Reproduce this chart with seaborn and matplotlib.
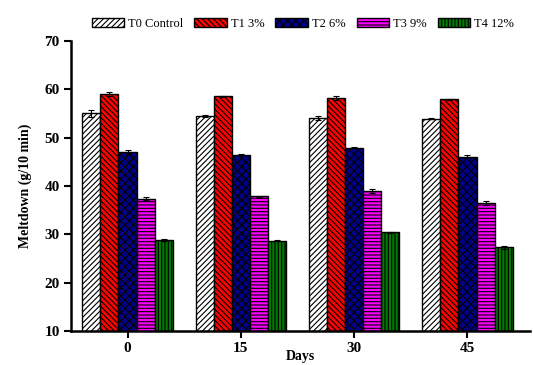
import matplotlib
matplotlib.use("Agg")
import matplotlib.pyplot as plt
import seaborn as sns
import numpy as np
import pandas as pd

days = ["0", "15", "30", "45"]
treatments = ["T0 Control", "T1 3%", "T2 6%", "T3 9%", "T4 12%"]
t0 = [55.0, 54.5, 54.0, 53.9]
t1 = [59.0, 58.5, 58.1, 57.9]
t2 = [47.1, 46.5, 47.9, 46.0]
t3 = [37.4, 37.9, 39.0, 36.4]
t4 = [28.9, 28.7, 30.4, 27.3]
e0 = [0.8, 0.2, 0.4, 0.1]
e1 = [0.4, 0.1, 0.4, 0.1]
e2 = [0.4, 0.1, 0.1, 0.3]
e3 = [0.4, 0.1, 0.4, 0.4]
e4 = [0.2, 0.1, 0.1, 0.3]

colors = ["white", "#ff0000", "#00008b", "#ff00ff", "#007a00"]
hatches = ["//////", "\\\\\\\\\\\\", "xxxx", "-----", "|||||"]

values = [t0, t1, t2, t3, t4]
errors = [e0, e1, e2, e3, e4]
rows = []
for tr, vals in zip(treatments, values):
    for d, v in zip(days, vals):
        rows.append({"Days": d, "Treatment": tr, "Meltdown": v})
df = pd.DataFrame(rows)

sns.set_style("ticks", {"axes.edgecolor": "black", "text.color": "black",
                        "xtick.color": "black", "ytick.color": "black",
                        "axes.labelcolor": "black"})
plt.rcParams["font.family"] = ["Liberation Serif", "DejaVu Serif"]
plt.rcParams["hatch.linewidth"] = 0.8

fig = plt.figure(figsize=(5.33, 3.65), dpi=100)
ax = fig.add_axes([0.133, 0.093, 0.861, 0.795])

sns.barplot(data=df, x="Days", y="Meltdown", hue="Treatment", order=days,
            hue_order=treatments, palette=colors, errorbar=None, width=0.8,
            edgecolor="black", linewidth=1.0, saturation=1, legend=False, ax=ax)

bar_conts = list(ax.containers)
for cont, h, errs in zip(bar_conts, hatches, errors):
    xs, ys = [], []
    for p in cont.patches:
        p.set_hatch(h)
        p.set_edgecolor("black")
        xs.append(p.get_x() + p.get_width() / 2)
        ys.append(p.get_height())
    ax.errorbar(xs, ys, yerr=errs, fmt="none", ecolor="black", elinewidth=0.8,
                capsize=2.5, capthick=0.8)

ax.set_ylim(10, 70)
ax.set_xlim(-0.5, 3.55)
ax.set_yticks([10, 20, 30, 40, 50, 60, 70])
ax.set_xlabel("Days", fontsize=10, fontweight="bold", labelpad=-4)
ax.set_ylabel("Meltdown (g/10 min)", fontsize=10, fontweight="bold", labelpad=9)
for lab in ax.get_xticklabels() + ax.get_yticklabels():
    lab.set_fontweight("bold")
    lab.set_fontsize(11)
sns.despine(ax=ax)
for s in ["left", "bottom"]:
    ax.spines[s].set_linewidth(1.8)
ax.tick_params(axis="both", width=1.5, length=5, direction="out", pad=3)

handles = [c.patches[0] for c in bar_conts]
fig.legend(handles, treatments, loc="center", bbox_to_anchor=(0.568, 0.935),
           ncol=5, frameon=False, fontsize=9, handlelength=2.6, handleheight=0.8,
           handletextpad=0.3, columnspacing=0.9, borderpad=0.1)

fig.savefig("out.png", dpi=100)
